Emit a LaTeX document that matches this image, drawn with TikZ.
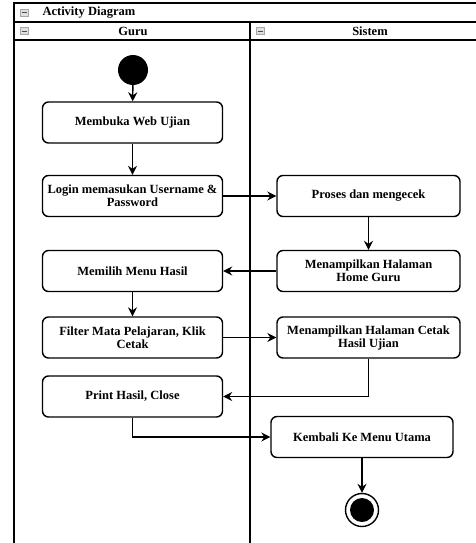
\documentclass[tikz,border=0pt]{standalone}
\usepackage{fontspec}
\setmainfont{Liberation Serif}
\usetikzlibrary{arrows.meta}
\begin{document}
\begin{tikzpicture}[x=1pt,y=-1pt,
  act/.style={draw,line width=1.4pt,rounded corners=6pt,minimum width=180pt,minimum height=41pt,align=center,font=\bfseries\fontsize{12.5}{13}\selectfont,inner sep=1pt},
  flow/.style={line width=1.4pt,-{Stealth[length=9pt,width=9pt,inset=3pt]}},
  lane/.style={line width=1.6pt},
  mini/.style={draw=gray!70,fill=gray!25,line width=0.6pt,minimum width=8pt,minimum height=7pt,inner sep=0pt,path picture={\draw[gray!60!black,line width=0.6pt] ([xshift=1.5pt]path picture bounding box.west) -- ([xshift=-1.5pt]path picture bounding box.east);}},
  hdr/.style={font=\bfseries\fontsize{12.5}{13}\selectfont}]
\useasboundingbox (0,0) rectangle (476,543);
% swimlane frame
\draw[lane] (14,560) -- (14,3) -- (490,3);
\draw[lane] (14,22) -- (490,22);
\draw[lane] (14,40) -- (490,40);
\draw[lane] (250,22) -- (250,560);
\node[mini] (m0) at (24,12.5) {};
\node[mini] (m1) at (24,31) {};
\node[mini] (m2) at (260,31) {};
\node[hdr,anchor=west] (title) at (39,13) {Activity Diagram};
\node[hdr] (guru) at (133,31.5) {Guru};
\node[hdr] (sistem) at (370,31.5) {Sistem};
% nodes
\node[circle,fill=black,minimum size=30pt,inner sep=0pt] (start) at (133,70) {};
\node[act] (a1) at (132.5,122.5) {Membuka Web Ujian};
\node[act] (a2) at (132.5,196) {Login memasukan Username \&\\Password};
\node[act,minimum width=183pt] (b1) at (368.5,196) {Proses dan mengecek};
\node[act,minimum width=183pt] (b2) at (368.5,271) {Menampilkan Halaman\\Home Guru};
\node[act] (a3) at (132.5,271) {Memilih Menu Hasil};
\node[act] (a4) at (132.5,337.5) {Filter Mata Pelajaran, Klik\\Cetak};
\node[act,minimum width=183pt] (b3) at (368.5,337.5) {Menampilkan Halaman Cetak\\Hasil Ujian};
\node[act] (a5) at (132.5,396.5) {Print Hasil, Close};
\node[act,minimum width=182pt] (b4) at (362,437) {Kembali Ke Menu Utama};
\node[circle,draw,line width=1.4pt,minimum size=33pt,inner sep=0pt] (end) at (362,510) {};
\node[circle,fill=black,minimum size=24pt,inner sep=0pt] (endin) at (end.center) {};
% flows
\draw[flow] (start) -- (a1);
\draw[flow] (a1) -- (a2);
\draw[flow] (a2) -- (b1);
\draw[flow] (b1) -- (b2);
\draw[flow] (b2) -- (a3);
\draw[flow] (a3) -- (a4);
\draw[flow] (a4) -- (b3);
\draw[flow] (b3.south) |- (a5.east);
\draw[flow] (a5.south) |- (b4.west);
\draw[flow] (b4) -- (end);
\end{tikzpicture}
\end{document}
